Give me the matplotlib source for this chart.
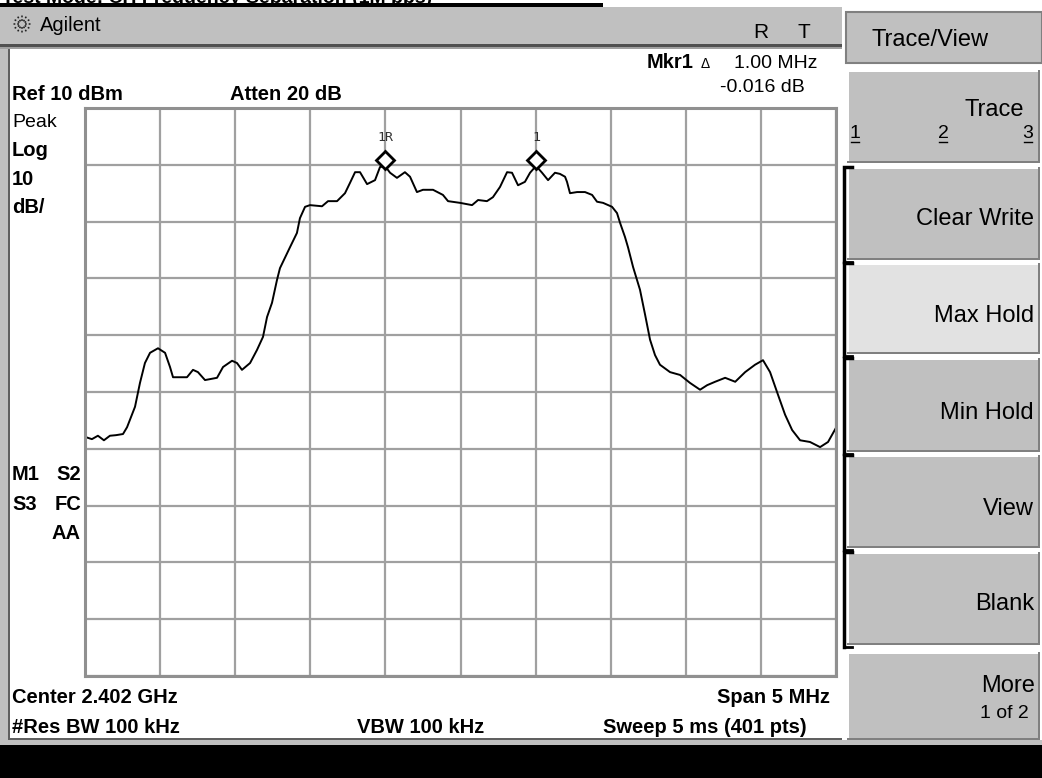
import numpy as np
import matplotlib.pyplot as plt
from matplotlib.patches import Rectangle

# spectrum analyzer screen: Agilent, Max Hold trace
center_ghz = 2.402
span_mhz = 5.0
ref_dbm = 10
db_per_div = 10

# trace (offset from center in MHz, level in dBm)
freq_off = [-2.500, -2.454, -2.414, -2.374, -2.334, -2.294, -2.247, -2.220, -2.167, -2.134,
            -2.101, -2.067, -2.014, -1.967, -1.934, -1.914, -1.821, -1.781, -1.748, -1.701,
            -1.621, -1.581, -1.521, -1.488, -1.455, -1.401, -1.355, -1.315, -1.288, -1.255,
            -1.222, -1.202, -1.135, -1.089, -1.069, -1.035, -1.002, -0.922, -0.882, -0.822,
            -0.769, -0.736, -0.702, -0.669, -0.622, -0.569, -0.536, -0.503, -0.469, -0.423,
            -0.370, -0.336, -0.290, -0.250, -0.183, -0.117, -0.083, -0.003, 0.077, 0.117,
            0.176, 0.216, 0.263, 0.310, 0.343, 0.383, 0.429, 0.463, 0.503, 0.543,
            0.583, 0.629, 0.662, 0.696, 0.709, 0.729, 0.776, 0.829, 0.876, 0.909,
            0.949, 1.009, 1.042, 1.062, 1.095, 1.115, 1.149, 1.195, 1.229, 1.262,
            1.295, 1.328, 1.395, 1.462, 1.528, 1.595, 1.642, 1.695, 1.762, 1.829,
            1.895, 1.961, 2.014, 2.061, 2.114, 2.161, 2.208, 2.261, 2.327, 2.394,
            2.447, 2.500]
level = [-47.9, -48.3, -47.7, -48.5, -47.7, -47.6, -47.4, -46.2, -42.6, -38.4,
         -34.9, -33.1, -32.3, -33.1, -35.6, -37.4, -37.4, -36.1, -36.5, -37.9,
         -37.5, -35.6, -34.5, -34.9, -36.1, -34.9, -32.6, -30.3, -26.8, -24.3,
         -20.3, -18.2, -14.5, -12.0, -9.4, -7.4, -7.1, -7.3, -6.4, -6.4,
         -5.0, -3.2, -1.3, -1.3, -3.4, -2.7, -0.4, -0.2, -1.4, -2.3,
         -1.3, -2.1, -4.8, -4.4, -4.4, -5.3, -6.4, -6.7, -7.1, -6.2,
         -6.4, -5.7, -3.9, -1.3, -1.4, -3.6, -3.0, -1.4, -0.2, -1.4,
         -2.7, -1.4, -1.6, -2.1, -3.0, -5.0, -4.8, -4.8, -5.3, -6.5,
         -6.7, -7.4, -8.5, -10.2, -12.7, -14.5, -18.0, -22.0, -26.4, -30.8,
         -33.5, -35.2, -36.5, -37.0, -38.4, -39.6, -38.8, -38.2, -37.5, -38.2,
         -36.5, -35.2, -34.4, -36.5, -40.5, -44.0, -46.7, -48.5, -48.8, -49.7,
         -48.8, -46.3]

mkr_freq = [-0.503, 0.503]
mkr_level = [-0.2, -0.2]
mkr_names = ['1R', '1']

softkeys = ['Clear Write', 'Max Hold', 'Min Hold', 'View', 'Blank']

W, H = 1042, 778
fig = plt.figure(figsize=(W / 100, H / 100), dpi=100)
fig.patch.set_facecolor('white')
bg = fig.add_axes([0, 0, 1, 1])
bg.set_xlim(0, W)
bg.set_ylim(H, 0)
bg.axis('off')

gray = '#c0c0c0'
dark = '#808080'
font = ['Liberation Sans', 'DejaVu Sans']

def rect(x0, y0, x1, y1, **kw):
    bg.add_patch(Rectangle((x0, y0), x1 - x0, y1 - y0, **kw))

def txt(x, y, s, size=14.5, bold=False, ha='left', **kw):
    bg.text(x, y, s, fontsize=size, fontweight='bold' if bold else 'normal',
            ha=ha, va='baseline', family=font, color='black', **kw)

# title line cut off at the top of the screenshot
txt(2, 2.5, 'Test Mode: CH Frequency Separation (1M bps)', size=14, bold=True)
rect(0, 3, 603, 6.5, color='black', lw=0)

# header bar
rect(0, 7, 842, 44, facecolor=gray, lw=0)
rect(0, 44, 842, 47, facecolor='#505050', lw=0)
rect(0, 47, 842, 49, facecolor='#a0a0a0', lw=0)
# left strip and bottom
rect(0, 49, 8, 745, facecolor=gray, lw=0)
rect(8, 49, 10, 740, facecolor='#606060', lw=0)
rect(8, 738, 842, 740, facecolor='#606060', lw=0)
rect(0, 740, W, 745, facecolor=gray, lw=0)
rect(0, 745, W, H, facecolor='black', lw=0)

# Agilent logo (little starburst)
for a in np.arange(0, 360, 30):
    r = np.radians(a)
    bg.plot([22 + 3 * np.cos(r), 22 + 9.5 * np.cos(r)], [24 + 3 * np.sin(r), 24 + 9.5 * np.sin(r)],
            color='#202020', lw=1.1, ls=(0, (1.2, 1.2)))
txt(40, 31, 'Agilent', size=14.5)
txt(753, 38, 'R', size=15)
txt(798, 38, 'T', size=15)

# annotation text in the display
txt(693, 68, 'Mkr1', bold=True, ha='right')
txt(705, 68, '\u0394', size=10, ha='center')
txt(817, 68, '1.00 MHz', size=14, ha='right')
txt(805, 92, '-0.016 dB', size=14, ha='right')
txt(12, 100, 'Ref 10 dBm', bold=True)
txt(230, 100, 'Atten 20 dB', bold=True)
txt(12, 127, 'Peak', size=14)
txt(12, 156, 'Log', bold=True)
txt(12, 185, '10', bold=True)
txt(12, 213, 'dB/', bold=True)
txt(12, 480, 'M1', bold=True)
txt(81, 480, 'S2', bold=True, ha='right')
txt(12, 510, 'S3', bold=True)
txt(81, 510, 'FC', bold=True, ha='right')
txt(81, 539, 'AA', bold=True, ha='right')
txt(12, 703, 'Center %.3f GHz' % center_ghz, bold=True)
txt(830, 703, 'Span %g MHz' % span_mhz, bold=True, ha='right')
txt(12, 733, '#Res BW 100 kHz', bold=True)
txt(421, 733, 'VBW 100 kHz', bold=True, ha='center')
txt(807, 733, 'Sweep 5 ms (401 pts)', bold=True, ha='right')

# right panel softkeys
def button(y0, y1, face=gray):
    rect(847, y0, 1040, y1, facecolor=face, lw=0)
    rect(847, y0, 1040, y0 + 2, facecolor='white', lw=0)
    rect(847, y0, 849, y1, facecolor='white', lw=0)
    rect(847, y1 - 2, 1040, y1, facecolor=dark, lw=0)
    rect(1038, y0, 1040, y1, facecolor=dark, lw=0)

rect(846, 12, 1042, 63, facecolor=gray, edgecolor=dark, lw=1.5)
txt(930, 46, 'Trace/View', size=17, ha='center')
button(70, 163)
txt(1024, 116, 'Trace', size=17, ha='right')
for xx, s in zip([855, 943, 1028], ['1', '2', '3']):
    txt(xx, 138, s, size=14, ha='center')
    bg.plot([xx - 4, xx + 4], [142, 142], color='black', lw=1)
tops = [167, 263, 358, 455, 552]
bots = [260, 354, 452, 548, 645]
bases = [225, 322, 419, 515, 610]
for y0, y1, yb, s in zip(tops, bots, bases, softkeys):
    button(y0, y1, face='#e2e2e2' if s == 'Max Hold' else gray)
    txt(1034, yb, s, size=17, ha='right')
    bg.plot([852, 844, 844], [y0, y0, y1 + 2], color='black', lw=2.5, solid_joinstyle='miter')
    bg.plot([844, 852], [y1 + 2, y1 + 2], color='black', lw=2)
button(652, 740)
txt(1035, 692, 'More', size=17, ha='right')
txt(1004, 718, '1 of 2', size=14, ha='center')

# graticule + trace
ax = fig.add_axes([85 / W, (H - 676) / H, 751 / W, 568 / H])
ax.set_facecolor('white')
ax.set_xlim(-span_mhz / 2, span_mhz / 2)
ax.set_ylim(ref_dbm - 10 * db_per_div, ref_dbm)
ax.set_xticks(np.linspace(-span_mhz / 2, span_mhz / 2, 11))
ax.set_yticks(np.arange(ref_dbm - 10 * db_per_div, ref_dbm + 1, db_per_div))
ax.tick_params(length=0, labelbottom=False, labelleft=False)
ax.grid(True, color='#a0a0a0', lw=1.6)
for sp in ax.spines.values():
    sp.set_color('#909090')
    sp.set_linewidth(2.2)
ax.plot(freq_off, level, color='black', lw=1.4)
for f, l, n in zip(mkr_freq, mkr_level, mkr_names):
    ax.plot(f, l + 1.1, marker='D', ms=9, mfc='white', mec='black', mew=2, clip_on=False)
    ax.text(f, l + 3.8, n, fontsize=9.5, ha='center', va='bottom', family='DejaVu Sans Mono',
            color='#303030')

fig.savefig('out.png', dpi=100)
